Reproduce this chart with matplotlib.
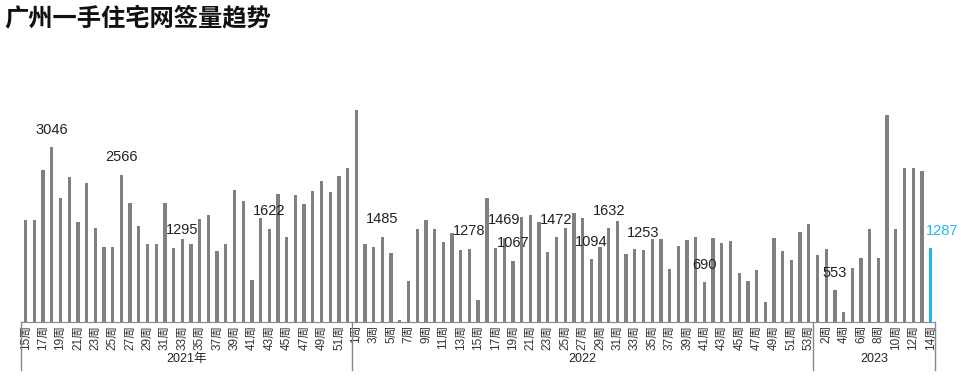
import numpy as np
import matplotlib.pyplot as plt
import matplotlib.transforms as mtrans

plt.rcParams['font.family'] = ['Liberation Sans', 'Noto Sans CJK SC']

# weekly signed volume, by year
weeks_2021 = list(range(15, 53))
vals_2021 = [1782, 1782, 2643, 3046, 2165, 2531, 1747, 2427, 1643, 1312,
             1312, 2566, 2078, 1678, 1364, 1364, 2078, 1295, 1452, 1364,
             1800, 1870, 1243, 1364, 2305, 2114, 737, 1817, 1622, 2236,
             1487, 2218, 2062, 2288, 2462, 2270, 2549, 2688]
weeks_2022 = list(range(1, 54))
vals_2022 = [3699, 1364, 1312, 1485, 1208, 41, 720, 1626, 1782, 1626,
             1399, 1556, 1260, 1278, 389, 2166, 1295, 1469, 1067, 1835,
             1870, 1748, 1225, 1472, 1643, 1904, 1817, 1094, 1312, 1632,
             1765, 1190, 1277, 1253, 1452, 1452, 929, 1329, 1434, 1487,
             690, 1469, 1382, 1417, 859, 720, 912, 354, 1469, 1243,
             1086, 1574, 1713]
weeks_2023 = list(range(1, 15))
vals_2023 = [1173, 1277, 553, 180, 946, 1121, 1626, 1121, 3612, 1626,
             2688, 2688, 2636, 1287]
year_names = ['2021年', '2022', '2023']

# which bars carry a value label: (year, week)
labelled = [(2021, 18), (2021, 26), (2021, 32), (2021, 43),
            (2022, 4), (2022, 14), (2022, 18), (2022, 19), (2022, 24),
            (2022, 28), (2022, 30), (2022, 34), (2022, 41),
            (2023, 3), (2023, 14)]

weeks = weeks_2021 + weeks_2022 + weeks_2023
vals = np.array(vals_2021 + vals_2022 + vals_2023)
years = [2021] * len(weeks_2021) + [2022] * len(weeks_2022) + [2023] * len(weeks_2023)
x = np.arange(len(vals))
n = len(vals)

gray = '#808080'
blue = '#1fb8f0'
colors = [gray] * (n - 1) + [blue]

fig = plt.figure(figsize=(9.64, 3.76), dpi=100)
ax = fig.add_axes([21.3 / 964, 54 / 376, 913.7 / 964, 282 / 376])
ax.bar(x, vals, width=0.38, color=colors)
ax.set_xlim(-0.5, n - 0.5)
ax.set_ylim(0, 4912)

for s in ['top', 'right', 'left']:
    ax.spines[s].set_visible(False)
ax.spines['bottom'].set_color('#888888')
ax.set_yticks([])
ax.set_xticks(x[::2])
ax.set_xticklabels([f'{w}周' for w in weeks[::2]], rotation=90, fontsize=8.5,
                   color='#333333')
ax.tick_params(axis='x', length=0, pad=2)

# value labels
for yr, wk in labelled:
    i = list(zip(years, weeks)).index((yr, wk))
    xi = i
    dx = 0
    if (yr, wk) == (2021, 32):
        xi = i + 1  # label sits over the next bar in the original
    col = '#222222'
    if i == n - 1:
        col = blue
        dx = 8
    ax.annotate(str(vals[i]), (xi, vals[i]), xytext=(dx, 7.5),
                textcoords='offset points', ha='center', va='bottom',
                fontsize=10.5, color=col, annotation_clip=False)

# year groups under the axis
trans = mtrans.blended_transform_factory(ax.transData, ax.transAxes)
bounds = [-0.5, len(weeks_2021) - 0.5, len(weeks_2021) + len(weeks_2022) - 0.5, n - 0.5]
for b in bounds:
    ax.plot([b, b], [0, -0.17], transform=trans, color='#888888', lw=1, clip_on=False)
for k in range(3):
    ax.text((bounds[k] + bounds[k + 1]) / 2, -0.131, year_names[k], transform=trans,
            ha='center', va='center', fontsize=9, color='#222222')

fig.text(4 / 964, 1 - 18 / 376, '广州一手住宅网签量趋势', fontsize=17.5, fontweight='bold',
         family=['Noto Sans CJK SC'], va='center', ha='left', color='#111111')

fig.savefig('out.png', dpi=100)
